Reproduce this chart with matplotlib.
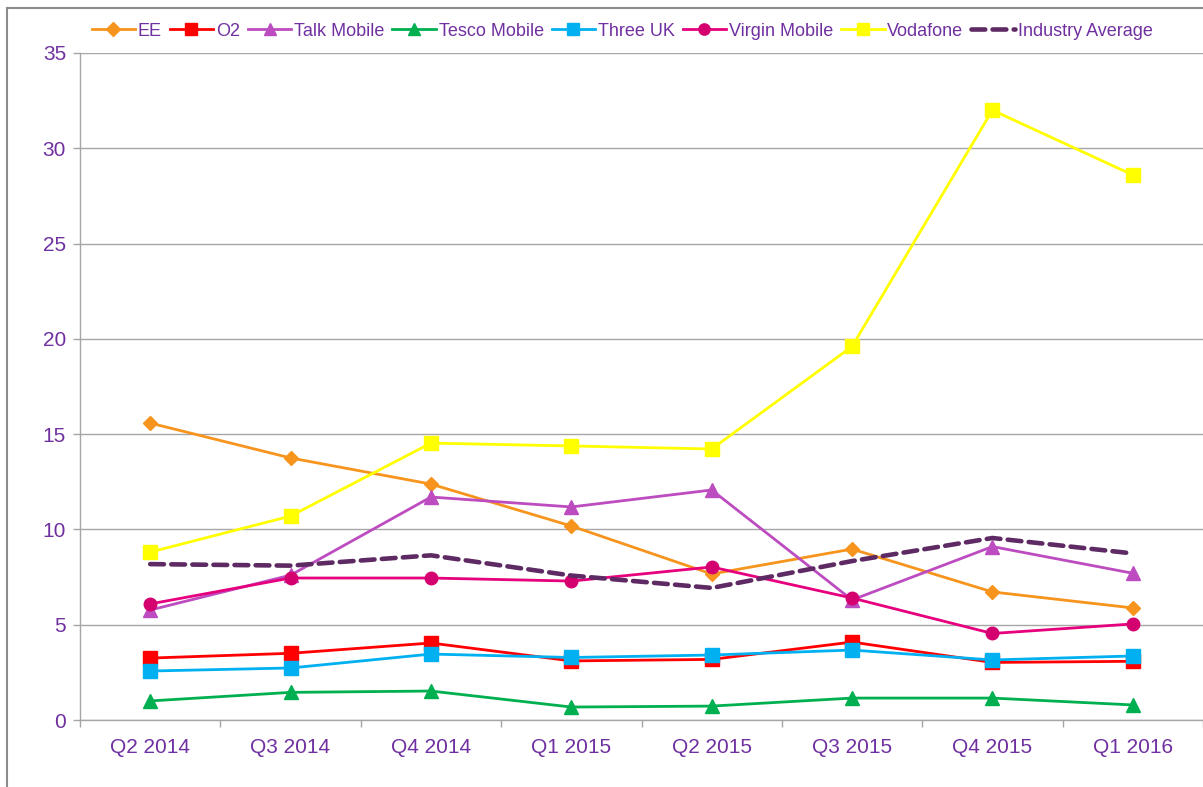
import matplotlib.pyplot as plt
from matplotlib.lines import Line2D

plt.rcParams['font.family'] = ['Liberation Sans', 'DejaVu Sans']

# quarters on the x axis
quarters = ['Q2 2014', 'Q3 2014', 'Q4 2014', 'Q1 2015',
            'Q2 2015', 'Q3 2015', 'Q4 2015', 'Q1 2016']

# values, one list per operator
ee = [15.58, 13.75, 12.38, 10.18, 7.66, 8.97, 6.72, 5.88]
o2 = [3.25, 3.5, 4.04, 3.1, 3.18, 4.09, 3.02, 3.08]
talk_mobile = [5.77, 7.6, 11.7, 11.18, 12.07, 6.3, 9.1, 7.7]
tesco_mobile = [1.0, 1.45, 1.52, 0.68, 0.73, 1.15, 1.15, 0.79]
three_uk = [2.57, 2.73, 3.46, 3.28, 3.41, 3.67, 3.15, 3.36]
virgin_mobile = [6.09, 7.45, 7.45, 7.29, 8.03, 6.4, 4.54, 5.04]
vodafone = [8.81, 10.7, 14.53, 14.38, 14.22, 19.6, 32.0, 28.6]
industry_avg = [8.18, 8.1, 8.64, 7.58, 6.93, 8.34, 9.55, 8.74]

txt = '#7030A0'
grid = '#A6A6A6'

fig = plt.figure(figsize=(12.03, 7.87), dpi=100)
ax = fig.add_axes([80 / 1203, 67 / 787, 1 - 80 / 1203, 667 / 787])

x = range(len(quarters))
lw = 2.0
ax.plot(x, ee, color='#F7941D', lw=lw, marker='D', ms=7.5, label='EE')
ax.plot(x, o2, color='#FF0000', lw=lw, marker='s', ms=9.5, label='O2')
ax.plot(x, talk_mobile, color='#BC4CC0', lw=lw, marker='^', ms=9.5, label='Talk Mobile')
ax.plot(x, tesco_mobile, color='#00B050', lw=lw, marker='^', ms=9.5, label='Tesco Mobile')
ax.plot(x, three_uk, color='#00B0F0', lw=lw, marker='s', ms=9.5, label='Three UK')
ax.plot(x, virgin_mobile, color='#E6007E', lw=lw, marker='o', ms=9,
        mfc='#D40070', mec='#D40070', label='Virgin Mobile')
ax.plot(x, vodafone, color='#FFFF00', lw=lw, marker='s', ms=9.5, label='Vodafone')
ax.plot(x, industry_avg, color='#5E2A63', lw=3.3, ls=(0, (3, 1.6)),
        dash_capstyle='round', label='Industry Average')

ax.set_xlim(-0.5, len(quarters) - 0.5)
ax.set_ylim(0, 35)
ax.set_yticks(range(0, 36, 5))
ax.set_xticks(list(x))
ax.set_xticklabels(quarters)
ax.set_xticks([i - 0.5 for i in range(len(quarters) + 1)], minor=True)
ax.tick_params(axis='x', which='major', length=0, pad=13, labelsize=15, labelcolor=txt)
ax.tick_params(axis='x', which='minor', length=5, color=grid, width=1)
ax.tick_params(axis='y', length=5, color=grid, width=1, pad=5, labelsize=15, labelcolor=txt)

ax.grid(axis='y', color=grid, lw=1)
ax.set_axisbelow(True)
for s in ['top', 'right']:
    ax.spines[s].set_visible(False)
for s in ['left', 'bottom']:
    ax.spines[s].set_color(grid)
    ax.spines[s].set_linewidth(1)

leg = ax.legend(loc='center', bbox_to_anchor=(622 / 1203, 1 - 31 / 787),
                bbox_transform=fig.transFigure, ncol=8, frameon=False,
                fontsize=13, handlelength=2.4, handletextpad=0.15,
                columnspacing=0.45, borderpad=0)
for t in leg.get_texts():
    t.set_color(txt)
for h in leg.legend_handles:
    h.set_markersize(h.get_markersize() * 0.9)

# chart area border
fig.add_artist(Line2D([7 / 1203, 7 / 1203], [0, 1 - 8 / 787], color='#8C8C8C', lw=1.5,
                      transform=fig.transFigure))
fig.add_artist(Line2D([7 / 1203, 1], [1 - 8 / 787, 1 - 8 / 787], color='#8C8C8C', lw=1.5,
                      transform=fig.transFigure))

fig.savefig('out.png', dpi=100)
